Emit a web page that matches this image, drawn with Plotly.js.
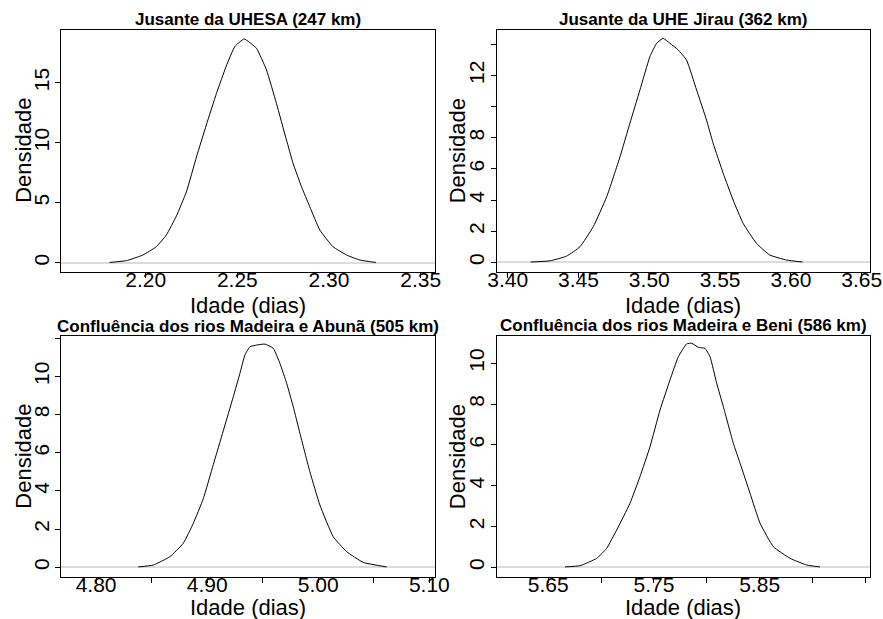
<!DOCTYPE html>
<html>
<head>
<meta charset="utf-8">
<script src="https://cdn.plot.ly/plotly-3.0.1.min.js"></script>
<style>html,body{margin:0;padding:0;background:#fff;}#chart{width:883px;height:619px;}</style>
</head>
<body>
<div id="chart"></div>
<script>
// ---- Data ----
const titles = [
  "Jusante da UHESA (247 km)",
  "Jusante da UHE Jirau (362 km)",
  "Confluência dos rios Madeira e Abunã (505 km)",
  "Confluência dos rios Madeira e Beni (586 km)"
];
const xTitle = "Idade (dias)";
const yTitle = "Densidade";

const p1x = [2.1803,2.1895,2.1985,2.2058,2.2113,2.2168,2.2222,2.2277,2.2331,2.2386,2.2440,2.2486,2.2537,2.2604,2.2659,2.2713,2.2768,2.2804,2.2850,2.2895,2.2950,2.3022,2.3096,2.3168,2.3256];
const p1y = [0.02,0.17,0.64,1.33,2.31,3.90,5.90,8.80,11.48,14.10,16.40,18.0,18.64,17.87,16.06,13.28,10.22,8.28,6.33,4.67,2.72,1.33,0.64,0.22,0.02];

const p2x = [3.4162,3.4299,3.4416,3.4510,3.4604,3.4699,3.4793,3.4863,3.4934,3.5004,3.5052,3.5098,3.5145,3.5204,3.5263,3.5334,3.5404,3.5451,3.5522,3.5592,3.5663,3.5757,3.5851,3.5969,3.6082];
const p2y = [0.02,0.10,0.40,1.00,2.29,4.21,6.78,8.93,11.07,13.20,14.07,14.38,14.07,13.64,12.99,11.07,9.14,7.64,5.72,4.00,2.50,1.22,0.47,0.15,0.02];

const p3x = [4.8380,4.8515,4.8665,4.8785,4.8875,4.8965,4.9055,4.9145,4.9235,4.9295,4.9340,4.9385,4.9445,4.9520,4.9595,4.9655,4.9716,4.9775,4.9835,4.9925,5.0015,5.0135,5.0256,5.0405,5.0616];
const p3y = [0.02,0.12,0.56,1.26,2.30,3.59,5.37,7.15,8.93,10.16,11.12,11.55,11.64,11.69,11.47,10.68,9.63,8.41,7.02,5.00,3.26,1.60,0.82,0.26,0.02];

const p4x = [5.6659,5.6801,5.6959,5.7053,5.7148,5.7274,5.7368,5.7463,5.7558,5.7652,5.7731,5.7810,5.7858,5.7920,5.7983,5.8031,5.8094,5.8157,5.8251,5.8315,5.8409,5.8504,5.8630,5.8788,5.8946,5.9071];
const p4y = [0.02,0.08,0.44,0.93,1.83,3.14,4.44,5.91,7.71,9.18,10.32,10.95,10.98,10.78,10.73,10.32,9.02,7.87,6.08,5.10,3.63,2.16,1.01,0.44,0.11,0.02];

// tick values and labels
const x1Ticks = [2.20,2.25,2.30,2.35], x1Text = ["2.20","2.25","2.30","2.35"];
const x2Ticks = [3.40,3.45,3.50,3.55,3.60,3.65], x2Text = ["3.40","3.45","3.50","3.55","3.60","3.65"];
const x3Ticks = [4.80,4.85,4.90,4.95,5.00,5.05,5.10], x3Text = ["4.80","","4.90","","5.00","","5.10"];
const x4Ticks = [5.65,5.70,5.75,5.80,5.85,5.90,5.95], x4Text = ["5.65","","5.75","","5.85","","5.95"];
const y1Ticks = [0,5,10,15], y1Text = ["0","5","10","15"];
const y2Ticks = [0,2,4,6,8,10,12,14], y2Text = ["0","2","4","6","8","","12",""];
const y3Ticks = [0,2,4,6,8,10,12], y3Text = ["0","2","4","6","8","10",""];
const y4Ticks = [0,2,4,6,8,10], y4Text = ["0","2","4","6","8","10"];

// ---- Layout ----
const FONT = "Liberation Sans, Arial, sans-serif";
const W = 883, H = 619;
const colL = [61.3/W, 435/W], colR = [496.7/W, 870/W];
const rowT = [1-271.7/H, 1-29.5/H], rowB = [1-576.7/H, 1-335.5/H];
const TICKSIZE = 21;

function xax(dom, anchor, range, tv, tt, standoff) {
  return {domain: dom, anchor: anchor, range: range, tickmode: "array", tickvals: tv, ticktext: tt,
    ticks: "outside", ticklen: 5, tickwidth: 1, tickcolor: "#000",
    showline: true, linecolor: "#000", linewidth: 1, mirror: true,
    showgrid: false, zeroline: false, ticklabelstandoff: standoff,
    tickfont: {family: FONT, size: TICKSIZE, color: "#000"}};
}
function yax(dom, anchor, range, tv, tt) {
  return {domain: dom, anchor: anchor, range: range, tickmode: "array", tickvals: tv, ticktext: tt,
    ticks: "outside", ticklen: 5, tickwidth: 1, tickcolor: "#000", tickangle: -90,
    showline: true, linecolor: "#000", linewidth: 1, mirror: true,
    showgrid: false, zeroline: true, zerolinecolor: "#dcdcdc", zerolinewidth: 2,
    ticklabelstandoff: -2,
    tickfont: {family: FONT, size: TICKSIZE, color: "#000"}};
}

const line = {color: "#000", width: 1, shape: "spline", smoothing: 0.4};
const data = [
  {x: p1x, y: p1y, xaxis: "x", yaxis: "y", type: "scatter", mode: "lines", line: line},
  {x: p2x, y: p2y, xaxis: "x2", yaxis: "y2", type: "scatter", mode: "lines", line: line},
  {x: p3x, y: p3y, xaxis: "x3", yaxis: "y3", type: "scatter", mode: "lines", line: line},
  {x: p4x, y: p4y, xaxis: "x4", yaxis: "y4", type: "scatter", mode: "lines", line: line}
];

function ann(text, x, ypx, size, bold, angle) {
  const a = {text: text, xref: "paper", yref: "paper", x: x, y: 1-ypx/H,
    xanchor: "center", yanchor: "middle", showarrow: false, borderpad: 0,
    font: {family: FONT, size: size, color: "#000", weight: bold ? "bold" : "normal"}};
  if (angle) a.textangle = angle;
  return a;
}
const cxL = (colL[0]+colL[1])/2, cxR = (colR[0]+colR[1])/2;

const layout = {
  width: W, height: H, margin: {l: 0, r: 0, t: 0, b: 0},
  paper_bgcolor: "#fff", plot_bgcolor: "#fff", showlegend: false,
  xaxis: xax(colL, "y", [2.154, 2.3578], x1Ticks, x1Text, -16),
  yaxis: yax(rowT, "x", [-0.75, 19.43], y1Ticks, y1Text),
  xaxis2: xax(colR, "y2", [3.3922, 3.6559], x2Ticks, x2Text, -16),
  yaxis2: yax(rowT, "x2", [-0.60, 14.95], y2Ticks, y2Text),
  xaxis3: xax(colL, "y3", [4.7687, 5.1051], x3Ticks, x3Text, -16),
  yaxis3: yax(rowB, "x3", [-0.49, 12.14], y3Ticks, y3Text),
  xaxis4: xax(colR, "y4", [5.6013, 5.9544], x4Ticks, x4Text, -16),
  yaxis4: yax(rowB, "x4", [-0.46, 11.36], y4Ticks, y4Text),
  annotations: [
    ann(titles[0], cxL, 20, 17, true), ann(titles[1], cxR, 20, 17, true),
    ann(titles[2], cxL, 326, 17, true), ann(titles[3], cxR, 325.8, 17, true),
    ann(xTitle, cxL, 305.4, 22), ann(xTitle, cxR, 305.4, 22),
    ann(xTitle, cxL, 607.5, 22), ann(xTitle, cxR, 607.5, 22),
    ann(yTitle, 24/W, 150.8, 22, false, -90), ann(yTitle, 457.5/W, 150.8, 22, false, -90),
    ann(yTitle, 24/W, 456.7, 22, false, -90), ann(yTitle, 457.5/W, 456.7, 22, false, -90)
  ]
};

Plotly.newPlot("chart", data, layout, {displayModeBar: false, staticPlot: true});
</script>
</body>
</html>
